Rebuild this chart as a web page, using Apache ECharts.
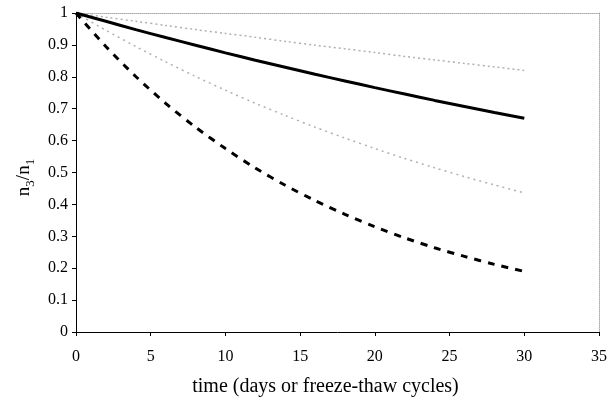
<!DOCTYPE html>
<html>
<head>
<meta charset="utf-8">
<script src="https://cdn.jsdelivr.net/npm/echarts@6/dist/echarts.min.js"></script>
<style>
  html, body { margin: 0; padding: 0; background: #fff; }
  #chart { width: 609px; height: 398px; }
</style>
</head>
<body>
<div id="chart"></div>
<script>
const times = [0, 2, 4, 6, 8, 10, 12, 14, 16, 18, 20, 22, 24, 26, 28, 30];
const upperGray = [1, 0.987, 0.974, 0.961, 0.948, 0.936, 0.924, 0.911, 0.899, 0.888, 0.876, 0.864, 0.853, 0.842, 0.831, 0.820];
const solidBlack = [1, 0.974, 0.948, 0.923, 0.899, 0.875, 0.852, 0.830, 0.808, 0.787, 0.766, 0.746, 0.726, 0.707, 0.688, 0.670];
const lowerGray = [1, 0.946, 0.895, 0.847, 0.801, 0.758, 0.717, 0.679, 0.642, 0.608, 0.575, 0.544, 0.515, 0.487, 0.461, 0.436];
const dashedBlack = [1, 0.895, 0.801, 0.717, 0.642, 0.575, 0.514, 0.460, 0.412, 0.369, 0.330, 0.295, 0.264, 0.237, 0.212, 0.190];

const font = "Liberation Serif";
const toPairs = (vals) => times.map((t, i) => [t, vals[i]]);

const chart = echarts.init(document.getElementById("chart"));

const lineSeries = (name, vals, style) => ({
    name,
    type: "line",
    data: toPairs(vals),
    showSymbol: false,
    smooth: 0.3,
    lineStyle: style,
    z: style.z || 2,
});

chart.setOption({
    animation: false,
    grid: { left: 76, right: 10, top: 13, bottom: 66, containLabel: false, outerBoundsMode: "none" },
    xAxis: [
        {
            type: "value",
            min: 0, max: 35, interval: 5,
            name: "time (days or freeze-thaw cycles)",
            nameLocation: "middle",
            nameGap: 45,
            nameTextStyle: { fontFamily: font, fontSize: 20, color: "#000", padding: [0, 24, 0, 0] },
            axisLine: { lineStyle: { color: "#000", width: 1 } },
            axisTick: { show: true, length: 4, lineStyle: { color: "#000" } },
            axisLabel: { fontFamily: font, fontSize: 16, color: "#000", margin: 17 },
            splitLine: { show: false },
        },
        {
            type: "value", position: "top", min: 0, max: 35,
            axisLine: { show: true, onZero: false, lineStyle: { color: "#aaa", type: "dotted" } },
            axisTick: { show: false }, axisLabel: { show: false }, splitLine: { show: false },
        },
    ],
    yAxis: [
        {
            type: "value",
            min: 0, max: 1, interval: 0.1,
            name: "{n|n}{s|3}{n|/n}{s|1}",
            nameLocation: "middle",
            nameRotate: 90,
            nameGap: 42,
            nameTextStyle: {
                padding: [0, 10, 0, 0],
                rich: {
                    n: { fontFamily: font, fontSize: 19, color: "#000", verticalAlign: "bottom", lineHeight: 22 },
                    s: { fontFamily: font, fontSize: 13, color: "#000", verticalAlign: "bottom", lineHeight: 15, padding: [0, 0, -4, 0] },
                },
            },
            axisLine: { show: true, lineStyle: { color: "#000", width: 1 } },
            axisTick: { show: true, length: 4, lineStyle: { color: "#000" } },
            axisLabel: { fontFamily: font, fontSize: 16, color: "#000", margin: 8 },
            splitLine: { show: false },
        },
        {
            type: "value", position: "right", min: 0, max: 1,
            axisLine: { show: true, onZero: false, lineStyle: { color: "#aaa", type: "dotted" } },
            axisTick: { show: false }, axisLabel: { show: false }, splitLine: { show: false },
        },
    ],
    series: [
        lineSeries("upper", upperGray, { color: "#b0b0b0", width: 1.5, type: [2, 3] }),
        lineSeries("solid", solidBlack, { color: "#000", width: 3, type: "solid", z: 3 }),
        lineSeries("lower", lowerGray, { color: "#b0b0b0", width: 1.5, type: [2, 4] }),
        lineSeries("dashed", dashedBlack, { color: "#000", width: 3, type: [7, 7], z: 3 }),
    ],
});
</script>
</body>
</html>
